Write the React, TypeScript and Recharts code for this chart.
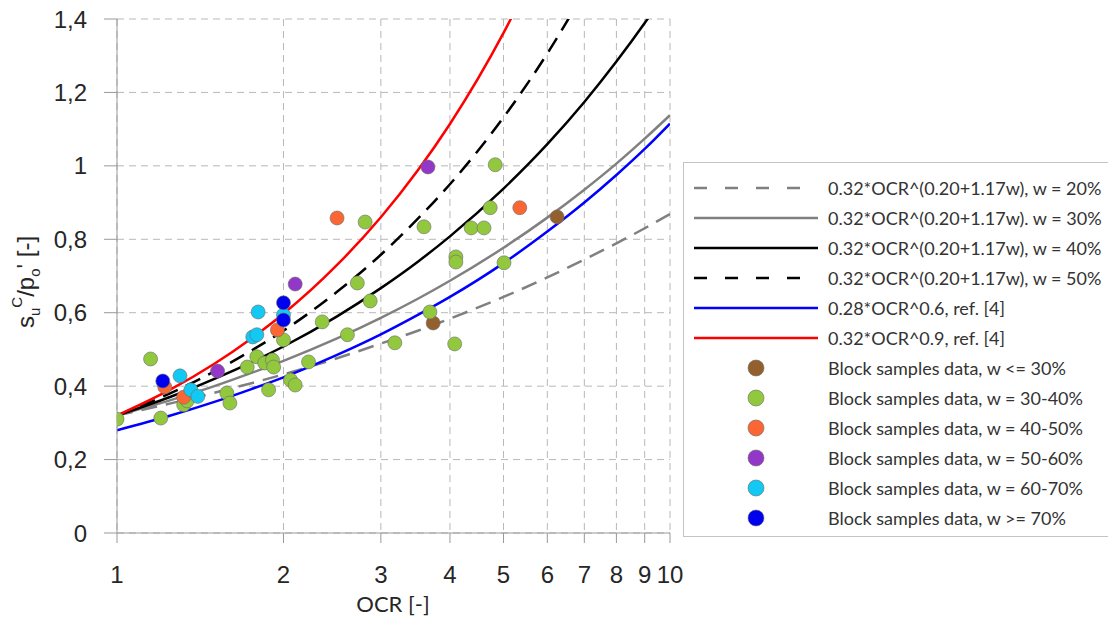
import React from 'react';
import { ComposedChart, Line, Scatter, XAxis, YAxis, CartesianGrid } from 'recharts';

const OCR_SAMPLES = [1, 1.25, 1.5, 1.75, 2, 2.5, 3, 3.5, 4, 5, 6, 7, 8, 9, 10];

// curve readings (null = above the plot)
const W20 = [0.32, 0.353, 0.382, 0.408, 0.432, 0.476, 0.516, 0.551, 0.584, 0.643, 0.696, 0.745, 0.789, 0.83, 0.869];
const W30 = [0.32, 0.362, 0.4, 0.436, 0.469, 0.53, 0.586, 0.638, 0.687, 0.777, 0.859, 0.935, 1.006, 1.074, 1.138];
const W40 = [0.32, 0.371, 0.42, 0.465, 0.508, 0.59, 0.667, 0.739, 0.808, 0.938, 1.059, 1.174, 1.284, 1.389, 1.49];
const W50 = [0.32, 0.381, 0.44, 0.497, 0.551, 0.657, 0.758, 0.856, 0.95, 1.132, 1.306, 1.474, null, null, null];
const REF_06 = [0.28, 0.32, 0.357, 0.392, 0.424, 0.485, 0.541, 0.594, 0.643, 0.735, 0.821, 0.9, 0.975, 1.046, 1.115];
const REF_09 = [0.32, 0.391, 0.461, 0.53, 0.597, 0.73, 0.86, 0.988, 1.114, 1.362, 1.605, null, null, null, null];

// block samples [OCR, su/p0']
const BROWN_PTS = [[3.73, 0.572], [6.25, 0.861]];
const GREEN_PTS = [
  [1.0, 0.31], [1.15, 0.474], [1.2, 0.313], [1.32, 0.349], [1.34, 0.36], [1.58, 0.381], [1.6, 0.354],
  [1.72, 0.452], [1.79, 0.48], [1.85, 0.463], [1.91, 0.471], [1.92, 0.452], [1.88, 0.39], [2.0, 0.526],
  [2.06, 0.417], [2.1, 0.403], [2.22, 0.466], [2.35, 0.575], [2.61, 0.54], [2.87, 0.632], [2.72, 0.681],
  [2.81, 0.847], [3.18, 0.518], [3.59, 0.834], [3.68, 0.602], [4.08, 0.515], [4.1, 0.752], [4.1, 0.738],
  [4.37, 0.831], [4.61, 0.831], [4.73, 0.886], [4.83, 1.003], [5.01, 0.736],
];
const ORANGE_PTS = [[1.22, 0.398], [1.32, 0.37], [1.95, 0.553], [2.5, 0.858], [5.35, 0.886]];
const PURPLE_PTS = [[1.52, 0.441], [2.1, 0.678], [3.65, 0.997]];
const CYAN_PTS = [[1.3, 0.428], [1.36, 0.39], [1.4, 0.372], [1.76, 0.534], [1.79, 0.54], [1.8, 0.602], [2.0, 0.594]];
const BLUE_PTS = [[1.21, 0.414], [2.0, 0.627], [2.0, 0.58]];

const X_TICKS = [1, 2, 3, 4, 5, 6, 7, 8, 9, 10];
const Y_TICKS = [0, 0.2, 0.4, 0.6, 0.8, 1, 1.2, 1.4];

const toCurve = (vals: (number | null)[]) =>
  OCR_SAMPLES.map((x, i) => ({ x, y: vals[i] })).filter((d) => d.y !== null);
const toPts = (pts: number[][]) => pts.map(([x, y]) => ({ x, y }));

const lines = [
  { name: '0.32*OCR^(0.20+1.17w), w = 20%', vals: W20, color: '#808080', dash: '16 9', legendDash: '13 18' },
  { name: '0.32*OCR^(0.20+1.17w). w = 30%', vals: W30, color: '#808080' },
  { name: '0.32*OCR^(0.20+1.17w), w = 40%', vals: W40, color: '#000000' },
  { name: '0.32*OCR^(0.20+1.17w), w = 50%', vals: W50, color: '#000000', dash: '16 9', legendDash: '13 18' },
  { name: '0.28*OCR^0.6, ref. [4]', vals: REF_06, color: '#0000ff' },
  { name: '0.32*OCR^0.9, ref. [4]', vals: REF_09, color: '#ff0000' },
];

const points = [
  { name: 'Block samples data, w <= 30%', pts: BROWN_PTS, color: '#93602d' },
  { name: 'Block samples data, w = 30-40%', pts: GREEN_PTS, color: '#92c83e' },
  { name: 'Block samples data, w = 40-50%', pts: ORANGE_PTS, color: '#fa6735' },
  { name: 'Block samples data, w = 50-60%', pts: PURPLE_PTS, color: '#9237c8' },
  { name: 'Block samples data, w = 60-70%', pts: CYAN_PTS, color: '#12c9f4' },
  { name: 'Block samples data, w >= 70%', pts: BLUE_PTS, color: '#0000ee' },
];

const TICK_FONT = { fontFamily: 'Liberation Sans, Arial, sans-serif', fontSize: 24, fill: '#262626' };

const fmtY = (v: number) => (v === 0 ? '0' : v === 1 ? '1' : v.toFixed(1).replace('.', ','));

const dot = (color: string) => (props: any) => (
  <circle cx={props.cx} cy={props.cy} r={7} fill={color} stroke="#6b6b6b" strokeOpacity={0.6} strokeWidth={1} />
);

// axis titles drawn in an svg overlay on top of the chart
const Titles = () => (
  <svg width={1108} height={623} style={{ position: 'absolute', left: 0, top: 0, pointerEvents: 'none' }}>
    <text
      transform="translate(34, 328) rotate(-90)"
      textAnchor="start"
      style={{ fontFamily: 'Liberation Sans, Arial, sans-serif', fontSize: 24, fill: '#262626' }}
    >
      <tspan>s</tspan>
      <tspan fontSize={15} dy={6}>u</tspan>
      <tspan fontSize={15} dy={-18}>C</tspan>
      <tspan dy={12}>/p</tspan>
      <tspan fontSize={15} dy={6}>o</tspan>
      <tspan dy={-6}>' [-]</tspan>
    </text>
    <text x={393} y={612} textAnchor="middle" style={{ fontFamily: 'Lato, sans-serif', fontSize: 22, fill: '#262626' }}>
      OCR [-]
    </text>
  </svg>
);

const LegendBox = () => (
  <div
    style={{
      position: 'absolute',
      left: 683,
      top: 162,
      width: 440,
      height: 375,
      border: '1px solid #c4c4c4',
      boxSizing: 'border-box',
      paddingTop: 10,
      fontFamily: 'Lato, sans-serif',
      fontSize: 18,
      color: '#333',
    }}
  >
    {lines.map((l) => (
      <div key={l.name} style={{ height: 30, display: 'flex', alignItems: 'center' }}>
        <svg width={144} height={30}>
          <line x1={10} x2={134} y1={15} y2={15} stroke={l.color} strokeWidth={2.5} strokeDasharray={l.legendDash} />
        </svg>
        <span>{l.name}</span>
      </div>
    ))}
    {points.map((p) => (
      <div key={p.name} style={{ height: 30, display: 'flex', alignItems: 'center' }}>
        <svg width={144} height={30}>
          <circle cx={72} cy={15} r={8} fill={p.color} stroke="#6b6b6b" strokeOpacity={0.6} />
        </svg>
        <span>{p.name}</span>
      </div>
    ))}
  </div>
);

export default function App() {
  return (
    <div style={{ position: 'absolute', left: 0, top: 0, width: 1108, height: 623, background: '#fff' }}>
      <ComposedChart width={1108} height={623} margin={{ top: 19, right: 438, bottom: 30, left: 0 }}>
        <CartesianGrid stroke="#b8b8b8" strokeDasharray="7 5" horizontalValues={Y_TICKS} verticalValues={X_TICKS} />
        <XAxis
          type="number"
          dataKey="x"
          scale="log"
          domain={[1, 10]}
          ticks={X_TICKS}
          allowDataOverflow
          height={60}
          stroke="#999"
          tickSize={10}
          tickMargin={23}
          tick={TICK_FONT}
        />
        <YAxis
          type="number"
          dataKey="y"
          domain={[0, 1.4]}
          ticks={Y_TICKS}
          allowDataOverflow
          width={117}
          stroke="#999"
          tickSize={13}
          tickMargin={17}
          tick={TICK_FONT}
          tickFormatter={fmtY}
        />
        {lines.map((l) => (
          <Line
            key={l.name}
            data={toCurve(l.vals)}
            dataKey="y"
            type="monotone"
            stroke={l.color}
            strokeWidth={2.5}
            strokeDasharray={l.dash}
            dot={false}
            activeDot={false}
            isAnimationActive={false}
          />
        ))}
        {points.map((p) => (
          <Scatter
            key={p.name}
            data={toPts(p.pts)}
            dataKey="y"
            fill={p.color}
            shape={dot(p.color)}
            isAnimationActive={false}
          />
        ))}
      </ComposedChart>
      <Titles />
      <LegendBox />
    </div>
  );
}
